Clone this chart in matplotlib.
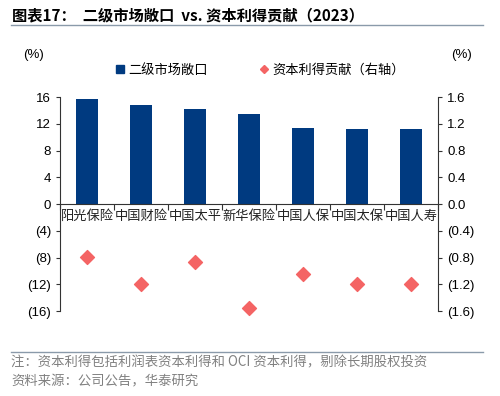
import numpy as np
import matplotlib.pyplot as plt
from matplotlib.lines import Line2D
from matplotlib.ticker import FixedLocator, FuncFormatter

plt.rcParams['font.family'] = ['Liberation Sans', 'Noto Sans CJK SC']

# data
companies = ['阳光保险', '中国财险', '中国太平', '新华保险', '中国人保', '中国太保', '中国人寿']
exposure = [15.7, 14.8, 14.15, 13.4, 11.3, 11.25, 11.15]      # 二级市场敞口, left axis (%)
contribution = [-0.79, -1.2, -0.87, -1.56, -1.04, -1.2, -1.2]  # 资本利得贡献, right axis (%)

navy = '#003A80'
red = '#F46464'

fig = plt.figure(figsize=(5, 3.96), dpi=100)
ax = fig.add_axes([0.12, 0.2146, 0.756, 0.5404])
ax2 = ax.twinx()

x = np.arange(len(companies))
ax.bar(x, exposure, width=0.4, color=navy, zorder=2)
ax2.scatter(x, contribution, marker='D', s=50, color=red, zorder=3, clip_on=False)

ax.set_xlim(-0.5, len(companies) - 0.5)
ax.set_ylim(-16, 16)
ax2.set_ylim(-1.6, 1.6)

def fmt_left(v, pos):
    v = int(round(v))
    return f'({abs(v)})' if v < 0 else f'{v}'

def fmt_right(v, pos):
    return f'({abs(v):.1f})' if v < -1e-9 else f'{abs(v):.1f}'

ax.yaxis.set_major_locator(FixedLocator(np.arange(-16, 17, 4)))
ax.yaxis.set_major_formatter(FuncFormatter(fmt_left))
ax2.yaxis.set_major_locator(FixedLocator(np.arange(-1.6, 1.61, 0.4)))
ax2.yaxis.set_major_formatter(FuncFormatter(fmt_right))

for a in (ax, ax2):
    a.spines['top'].set_visible(False)
    a.tick_params(axis='y', labelsize=9.5, length=3, width=0.8, colors='#333333', labelcolor='black')
ax.spines['right'].set_visible(False)
ax2.spines['left'].set_visible(False)
ax.spines['left'].set_color('#333333')
ax2.spines['right'].set_color('#333333')
ax2.spines['bottom'].set_visible(False)

# x axis at zero, ticks at category boundaries
ax.spines['bottom'].set_position(('data', 0))
ax.spines['bottom'].set_color('#333333')
ax.set_xticks(np.arange(-0.5, len(companies), 1.0))
ax.set_xticklabels([])
ax.tick_params(axis='x', length=4, width=0.8, direction='out', colors='#333333')
for i, name in enumerate(companies):
    ax.text(i, -0.9, name, ha='center', va='top', fontsize=9.5,
            family=['Noto Sans CJK SC'], color='#222222')

# units
fig.text(0.066, 0.86, '(%)', fontsize=9.5, ha='center', va='center')
fig.text(0.924, 0.86, '(%)', fontsize=9.5, ha='center', va='center')

# legend
handles = [
    Line2D([], [], marker='s', linestyle='', color=navy, markersize=6),
    Line2D([], [], marker='D', linestyle='', color=red, markersize=4),
]
fig.legend(handles, ['二级市场敞口', '资本利得贡献（右轴）'], loc='center left',
           bbox_to_anchor=(0.232, 0.822), ncol=2, frameon=False,
           handlelength=0.6, handletextpad=0.3, columnspacing=4.0, borderpad=0, borderaxespad=0,
           prop={'family': ['Noto Sans CJK SC'], 'size': 9.5})

# title and rule
fig.text(0.024, 0.962, '图表17：  二级市场敞口  vs. 资本利得贡献（2023）', fontsize=11,
         fontweight='bold', ha='left', va='center', family=['Noto Sans CJK SC'])
fig.add_artist(Line2D([0.022, 0.966], [0.938, 0.938], color='#8A9AAA', linewidth=1))

# footer
fig.add_artist(Line2D([0.022, 0.966], [0.11, 0.11], color='#8A9AAA', linewidth=1))
fig.text(0.022, 0.085, '注：资本利得包括利润表资本利得和 OCI 资本利得，剔除长期股权投资', fontsize=9.6,
         color='#808080', ha='left', va='center', family=['Noto Sans CJK SC'])
fig.text(0.022, 0.037, '资料来源：公司公告，华泰研究', fontsize=9.6,
         color='#808080', ha='left', va='center', family=['Noto Sans CJK SC'])

fig.savefig('out.png', dpi=100)
